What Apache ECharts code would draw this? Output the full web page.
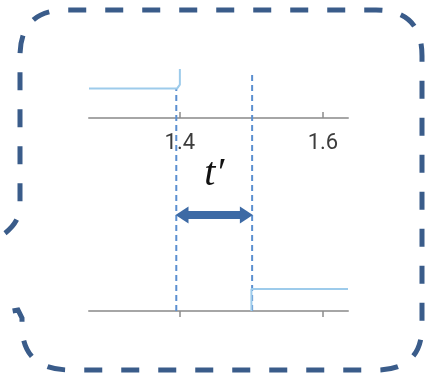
<!DOCTYPE html>
<html>
<head>
<meta charset="utf-8">
<script src="https://cdn.jsdelivr.net/npm/echarts@6/dist/echarts.min.js"></script>
<style>
    html, body { margin: 0; padding: 0; background: #fff; }
    #main { width: 425px; height: 377px; }
</style>
</head>
<body>
<div id="main"></div>
<script>
// 时间轴范围与刻度
var xRange = [1.273, 1.635];
var tickValues = [1.4, 1.6];

// 上下两路信号（阶跃）
var upperSignal = [[1.273, 0.6], [1.396, 0.6], [1.4, 0.68], [1.4, 1.0]];
var lowerSignal = [[1.5, 0], [1.5, 0.415], [1.635, 0.415]];

// 延时 t' 的起止
var tStart = 1.395;
var tEnd = 1.501;
var guideTop = [0.92, 0.99];
var arrowLevel = 0.397;
var delayLabel = 't\u2032';

(function () {
    var myChart = echarts.init(document.getElementById('main'));

    var axisGray = '#a6a6a6';
    var signalBlue = '#9dcbeb';
    var guideBlue = '#5b8fd0';

    // 对话框虚线边框
    var bubblePath = 'M -60 325 L 18 310 L 22 318 L 22 325 Q 22 370 70 370 L 376 370 Q 422 370 422 326 ' +
        'L 422 56 Q 422 10 376 10 L 66 10 Q 20 10 20 56 L 20 206 Q 20 222 4 234 L -40 268';

    function timeAxis(gridIndex, position, showLabel) {
        return {
            type: 'value',
            gridIndex: gridIndex,
            position: position,
            min: xRange[0],
            max: xRange[1],
            splitLine: { show: false },
            axisLine: { show: showLabel !== null, lineStyle: { color: axisGray, width: 2 } },
            axisTick: {
                show: showLabel !== null,
                inside: true,
                length: 6,
                customValues: tickValues,
                lineStyle: { color: '#8c8c8c', width: 1.5 }
            },
            axisLabel: {
                show: !!showLabel,
                customValues: tickValues,
                margin: 14,
                fontSize: 22,
                color: '#3c3c3c',
                fontFamily: 'Roboto',
                formatter: function (v) { return v.toFixed(1); }
            }
        };
    }

    var option = {
        backgroundColor: '#fff',
        animation: false,
        grid: [
            { left: 89, right: 77, top: 69, height: 49 },
            { left: 89, right: 77, top: 258, height: 53 },
            { left: 89, right: 77, top: 69, height: 242 }
        ],
        xAxis: [
            timeAxis(0, 'bottom', true),
            timeAxis(1, 'top', false),
            timeAxis(2, 'bottom', null)
        ],
        yAxis: [
            { type: 'value', gridIndex: 0, min: 0, max: 1, show: false },
            { type: 'value', gridIndex: 1, min: 0, max: 1, show: false },
            { type: 'value', gridIndex: 2, min: 0, max: 1, show: false }
        ],
        series: [
            {
                type: 'custom',
                coordinateSystem: 'none',
                silent: true,
                z: -1,
                data: [0],
                renderItem: function () {
                    return {
                        type: 'path',
                        shape: { pathData: bubblePath },
                        style: { fill: 'none', stroke: '#3a5c8a', lineWidth: 5, lineDash: [18, 19] }
                    };
                }
            },
            {
                type: 'line',
                xAxisIndex: 0,
                yAxisIndex: 0,
                data: upperSignal,
                symbol: 'none',
                lineStyle: { color: signalBlue, width: 2 }
            },
            {
                type: 'line',
                xAxisIndex: 1,
                yAxisIndex: 1,
                data: lowerSignal,
                symbol: 'none',
                lineStyle: { color: signalBlue, width: 2 }
            },
            {
                type: 'line',
                xAxisIndex: 2,
                yAxisIndex: 2,
                data: [[tStart, 0], [tStart, guideTop[0]]],
                symbol: 'none',
                z: 1,
                lineStyle: { color: guideBlue, width: 2, type: [6, 4] }
            },
            {
                type: 'line',
                xAxisIndex: 2,
                yAxisIndex: 2,
                data: [[tEnd, 0], [tEnd, guideTop[1]]],
                symbol: 'none',
                z: 1,
                lineStyle: { color: guideBlue, width: 2, type: [6, 4] },
                markLine: {
                    silent: true,
                    symbol: ['triangle', 'triangle'],
                    symbolSize: [17, 13],
                    lineStyle: { color: '#3d6aa5', width: 8, type: 'solid' },
                    itemStyle: { color: '#3d6aa5' },
                    label: {
                        show: true,
                        position: 'middle',
                        distance: 20,
                        formatter: delayLabel,
                        fontSize: 40,
                        fontStyle: 'italic',
                        fontFamily: 'Liberation Serif',
                        color: '#111'
                    },
                    data: [[
                        { coord: [tStart + 0.008, arrowLevel] },
                        { coord: [tEnd - 0.008, arrowLevel] }
                    ]]
                }
            }
        ]
    };

    myChart.setOption(option);

    window.addEventListener('resize', function () {
        myChart.resize();
    });
})();
</script>
</body>
</html>
